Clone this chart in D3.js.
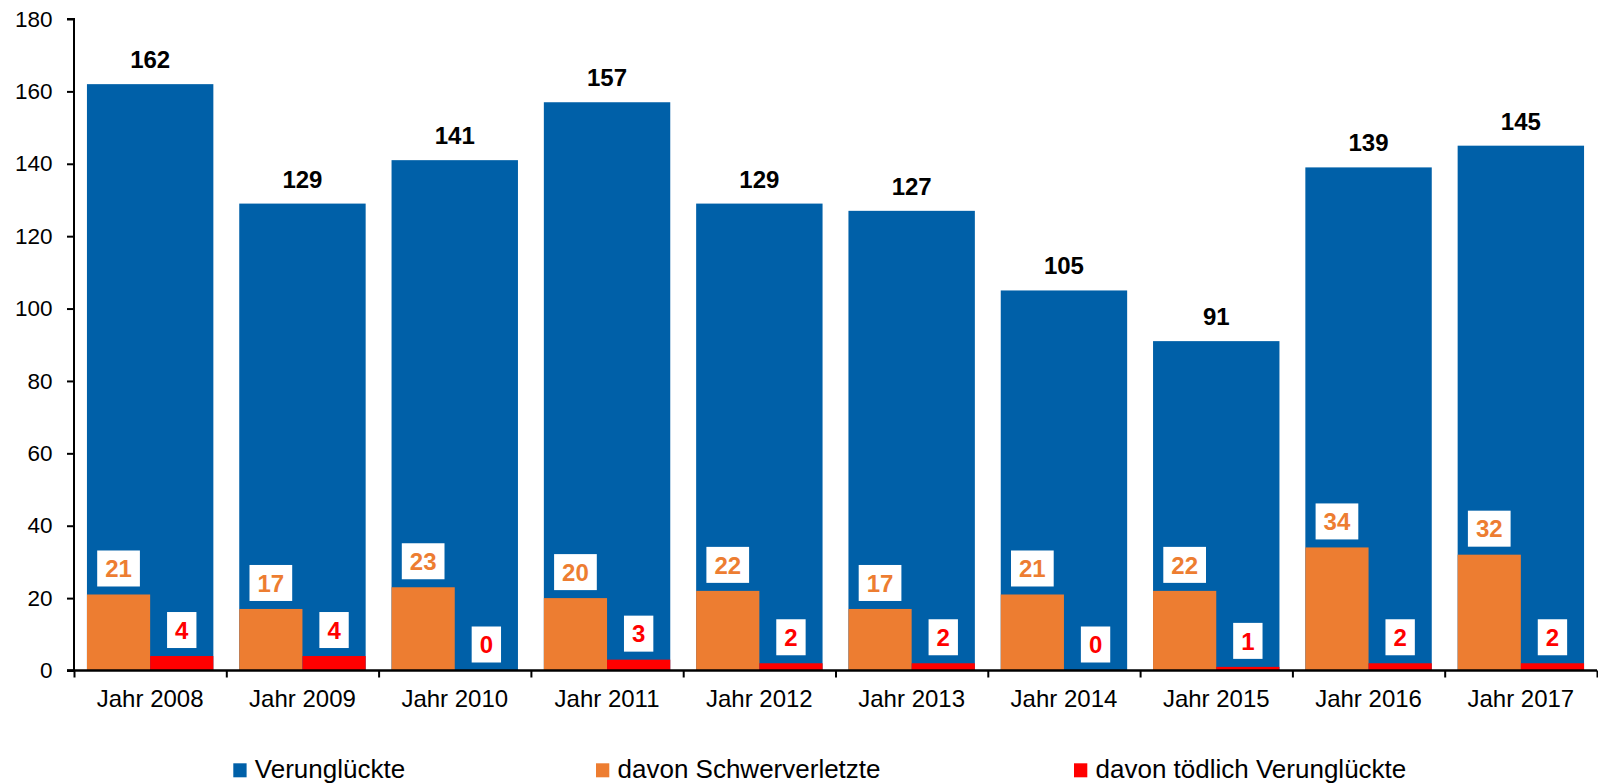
<!DOCTYPE html>
<html>
<head>
<meta charset="utf-8">
<script src="https://cdn.jsdelivr.net/npm/d3@7"></script>
<style>
  html, body { margin: 0; padding: 0; background: #fff; }
  svg { display: block; font-family: "Liberation Sans", Arial, sans-serif; }
</style>
</head>
<body>
<svg id="chart" width="1598" height="784"></svg>
<script>
const categories = ["Jahr 2008","Jahr 2009","Jahr 2010","Jahr 2011","Jahr 2012","Jahr 2013","Jahr 2014","Jahr 2015","Jahr 2016","Jahr 2017"];
const verunglueckte = [162,129,141,157,129,127,105,91,139,145];
const schwerverletzte = [21,17,23,20,22,17,21,22,34,32];
const toedlich = [4,4,0,3,2,2,0,1,2,2];
const yTicks = [0,20,40,60,80,100,120,140,160,180];
const seriesNames = ["Verunglückte","davon Schwerverletzte","davon tödlich Verunglückte"];
const colors = ["#0060A8","#ED7D31","#FF0000"];

(function() {
const svg = d3.select("#chart");
const mLeft = 74, mRight = 1597, mTop = 19, mBottom = 670.5;

const x = d3.scaleBand().domain(categories).range([mLeft, mRight])
  .paddingInner(0.17).paddingOuter(0.085);
const xEdge = d3.scaleLinear().domain([0, categories.length]).range([mLeft, mRight]);
const y = d3.scaleLinear().domain([0, 180]).range([mBottom, mTop]);

const data = categories.map((c, i) => ({c, v: verunglueckte[i], s: schwerverletzte[i], t: toedlich[i]}));

// bars
const g = svg.append("g");
g.selectAll("rect.blue").data(data).join("rect").attr("class","blue")
  .attr("x", d => x(d.c)).attr("width", x.bandwidth())
  .attr("y", d => y(d.v)).attr("height", d => y(0) - y(d.v))
  .attr("fill", colors[0]);
g.selectAll("rect.orange").data(data).join("rect").attr("class","orange")
  .attr("x", d => x(d.c)).attr("width", x.bandwidth()/2)
  .attr("y", d => y(d.s)).attr("height", d => y(0) - y(d.s))
  .attr("fill", colors[1]);
g.selectAll("rect.red").data(data).join("rect").attr("class","red")
  .attr("x", d => x(d.c) + x.bandwidth()/2).attr("width", x.bandwidth()/2)
  .attr("y", d => y(d.t)).attr("height", d => y(0) - y(d.t))
  .attr("fill", colors[2]);

// y axis
const yAxis = svg.append("g").attr("transform", `translate(${mLeft},0)`)
  .call(d3.axisLeft(y).tickValues(yTicks).tickSize(7).tickPadding(14.5));
yAxis.selectAll("text").attr("font-size", "22.5px").attr("fill", "#000")
  .style("font-family", '"Liberation Sans", Arial, sans-serif');
yAxis.selectAll("line").attr("stroke", "#000").attr("stroke-width", 2);
yAxis.select(".domain").attr("stroke", "#000").attr("stroke-width", 2)
  .attr("d", `M-7,${mTop}H0V${mBottom}H-7`);

// x axis edge ticks
const xAxis = svg.append("g").attr("transform", `translate(0,${mBottom})`)
  .call(d3.axisBottom(xEdge).tickValues(d3.range(categories.length + 1)).tickSize(7).tickFormat(""));
xAxis.selectAll("line").attr("stroke", "#000").attr("stroke-width", 2);
xAxis.select(".domain").attr("stroke", "#000").attr("stroke-width", 2.5)
  .attr("d", `M${mLeft - 7},0H${mRight}`);

// x labels
const xLab = svg.append("g").attr("transform", `translate(0,${mBottom})`)
  .call(d3.axisBottom(x).tickSize(0).tickPadding(19));
xLab.select(".domain").remove();
xLab.selectAll("text").attr("font-size", "24px").attr("fill", "#000")
  .style("font-family", '"Liberation Sans", Arial, sans-serif');

// total labels
svg.append("g").selectAll("text").data(data).join("text")
  .attr("x", d => x(d.c) + x.bandwidth()/2)
  .attr("y", d => y(d.v) - 16)
  .attr("text-anchor", "middle").attr("font-weight", "bold").attr("font-size", "24px")
  .attr("fill", "#000").text(d => d.v);

// boxed labels
function boxedLabels(accessor, offsetFrac, color) {
  const lg = svg.append("g");
  const items = lg.selectAll("g").data(data).join("g")
    .attr("transform", d => `translate(${x(d.c) + x.bandwidth()*offsetFrac},${y(accessor(d)) - 8 - 18})`);
  items.append("rect").attr("fill", "#fff");
  const texts = items.append("text")
    .attr("text-anchor", "middle").attr("dy", "0.36em")
    .attr("font-weight", "bold").attr("font-size", "24px")
    .attr("fill", color).text(d => accessor(d));
  texts.each(function() {
    const w = this.getComputedTextLength() + 16;
    d3.select(this.parentNode).select("rect")
      .attr("x", -w/2).attr("y", -18).attr("width", w).attr("height", 36);
  });
}
boxedLabels(d => d.s, 0.25, colors[1]);
boxedLabels(d => d.t, 0.75, colors[2]);

// legend
const legendX = [233.3, 596, 1074];
const li = svg.append("g").selectAll("g").data(seriesNames).join("g")
  .attr("transform", (d, i) => `translate(${legendX[i]},0)`);
li.append("rect").attr("x", 0).attr("y", 763.3).attr("width", 13.3).attr("height", 14)
  .attr("fill", (d, i) => colors[i]);
li.append("text").attr("x", 21.5).attr("y", 777.5)
  .attr("font-size", "26px").attr("fill", "#000").text(d => d);
})();
</script>
</body>
</html>
